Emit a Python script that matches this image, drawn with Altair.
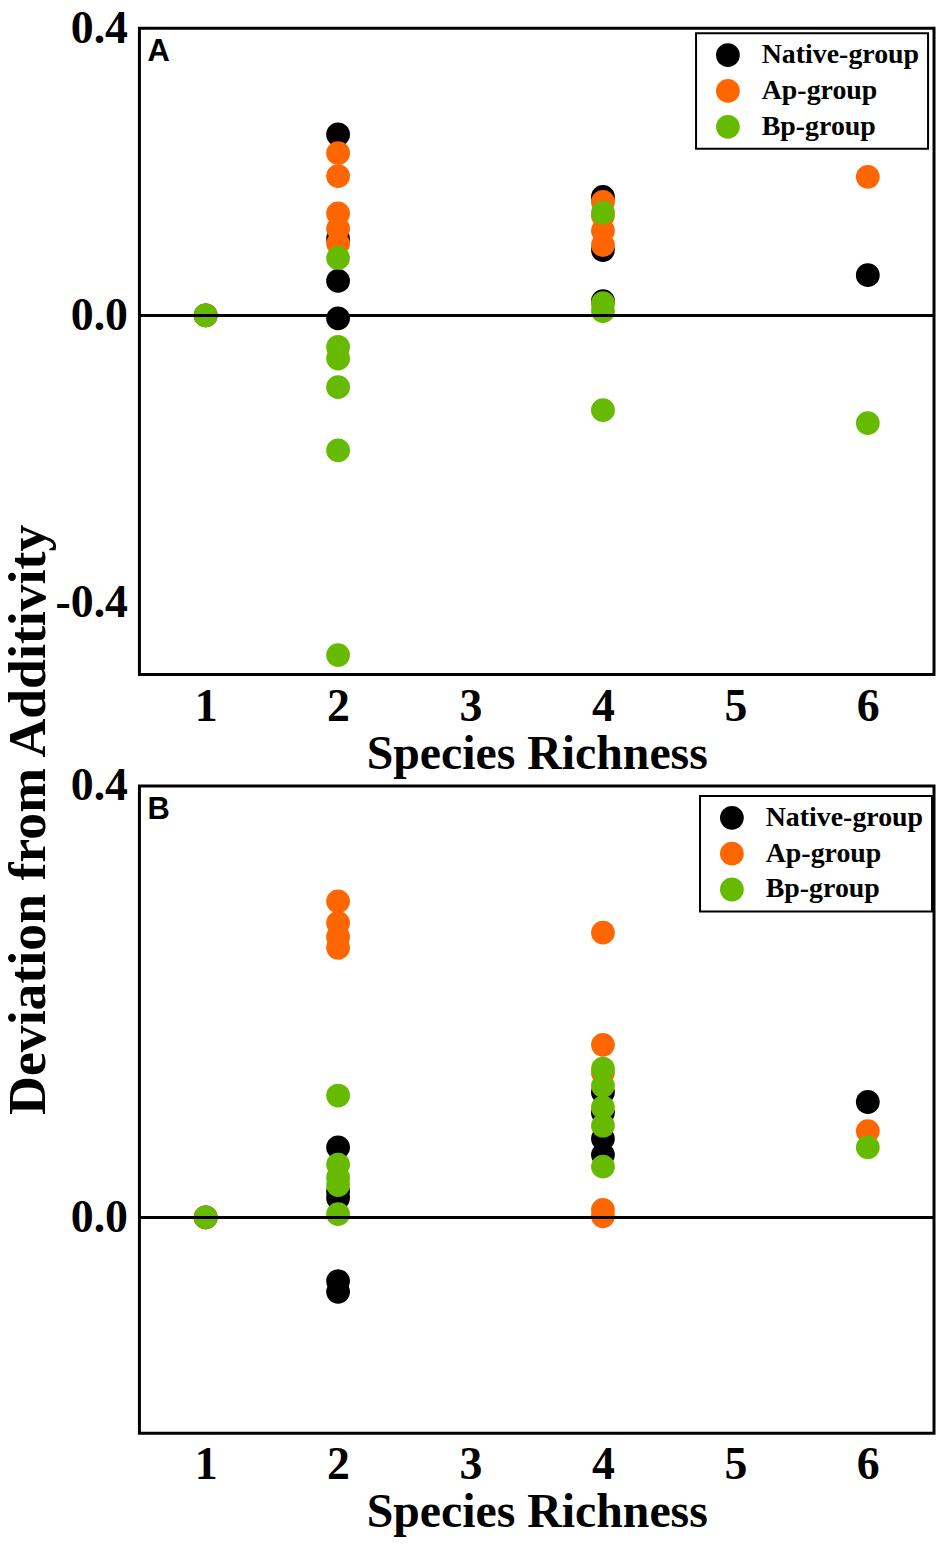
import pandas as pd
import altair as alt

# groups and their colours (drawing order: native, Ap, Bp)
groups = ["Native-group", "Ap-group", "Bp-group"]
group_colors = ["#000000", "#ff6600", "#66bb00"]

richness_ticks = [1, 2, 3, 4, 5, 6]

# Panel A
a_native_x = [1, 2, 2, 2, 2, 4, 4, 4, 6]
a_native_y = [0.0, 0.252, 0.107, 0.048, -0.004, 0.165, 0.091, 0.020, 0.056]
a_ap_x = [1, 2, 2, 2, 2, 2, 4, 4, 4, 4, 6]
a_ap_y = [0.0, 0.226, 0.194, 0.142, 0.121, 0.100, 0.158, 0.139, 0.118, 0.098, 0.193]
a_bp_x = [1, 2, 2, 2, 2, 2, 2, 4, 4, 4, 4, 6]
a_bp_y = [0.0, 0.080, -0.044, -0.060, -0.100, -0.188, -0.473, 0.143, 0.017, 0.006, -0.132, -0.150]

# Panel B
b_native_x = [1, 2, 2, 2, 2, 2, 4, 4, 4, 4, 6]
b_native_y = [0.0, 0.065, 0.024, 0.018, -0.059, -0.069, 0.116, 0.097, 0.073, 0.058, 0.107]
b_ap_x = [1, 2, 2, 2, 2, 4, 4, 4, 4, 4, 6]
b_ap_y = [0.0, 0.293, 0.273, 0.260, 0.250, 0.264, 0.160, 0.134, 0.007, 0.001, 0.080]
b_bp_x = [1, 2, 2, 2, 2, 2, 4, 4, 4, 4, 4, 6]
b_bp_y = [0.0, 0.113, 0.049, 0.037, 0.030, 0.003, 0.138, 0.122, 0.102, 0.085, 0.047, 0.065]

y_title = "Deviation from Additivity"
x_title = "Species Richness"

SERIF = "Liberation Serif"


def build_df(native, ap, bp):
    frames = []
    for name, (xs, ys) in zip(groups, [native, ap, bp]):
        frames.append(pd.DataFrame({"richness": xs, "deviation": ys, "group": name}))
    return pd.concat(frames, ignore_index=True)


def panel(df, ymin, letter, legend_x, legend_y, height):
    y_ticks = [v for v in [-0.4, 0.0, 0.4] if v >= ymin]
    points = alt.Chart(df).mark_circle(size=570, opacity=1).encode(
        x=alt.X("richness:Q",
                scale=alt.Scale(domain=[0.5, 6.5], nice=False, zero=False),
                axis=alt.Axis(values=richness_ticks, title=x_title, grid=False,
                              ticks=False, domain=False, labelFont=SERIF,
                              labelFontSize=46, labelFontWeight="bold",
                              labelColor="black", labelPadding=10,
                              titleFont=SERIF, titleFontSize=48,
                              titleFontWeight="bold", titleColor="black",
                              titlePadding=1)),
        y=alt.Y("deviation:Q",
                scale=alt.Scale(domain=[ymin, 0.4], nice=False, zero=False),
                axis=alt.Axis(values=y_ticks, title=None, grid=False, ticks=False,
                              domain=False, labelFont=SERIF, labelFontSize=46,
                              labelFontWeight="bold", labelColor="black",
                              labelPadding=12,
                              labelExpr="datum.value < 0 ? '-' + format(-datum.value, '.1f') : format(datum.value, '.1f')")),
        color=alt.Color("group:N",
                        scale=alt.Scale(domain=groups, range=group_colors),
                        legend=alt.Legend(title=None, orient="none",
                                          legendX=legend_x, legendY=legend_y,
                                          symbolType="circle", symbolSize=570,
                                          symbolStrokeWidth=0, symbolOpacity=1,
                                          labelFont=SERIF, labelFontSize=28,
                                          labelFontWeight="bold", labelColor="black",
                                          labelOffset=20, rowPadding=8,
                                          padding=8, symbolOffset=10,
                                          strokeColor="black")),
    )
    zero_line = alt.Chart(pd.DataFrame({"deviation": [0.0]})).mark_rule(
        color="black", strokeWidth=3
    ).encode(y="deviation:Q")
    tag = alt.Chart(pd.DataFrame({"t": [letter]})).mark_text(
        font="Liberation Sans", fontSize=31, fontWeight="bold", color="black",
        align="left", baseline="top"
    ).encode(text="t:N", x=alt.value(8), y=alt.value(9))
    return (points + zero_line + tag).properties(width=798, height=height)


df_a = build_df((a_native_x, a_native_y), (a_ap_x, a_ap_y), (a_bp_x, a_bp_y))
df_b = build_df((b_native_x, b_native_y), (b_ap_x, b_ap_y), (b_bp_x, b_bp_y))

chart_a = panel(df_a, -0.5, "A", 559, 5, 649)
chart_b = panel(df_b, -0.2, "B", 563, 10, 650)

panels = alt.vconcat(chart_a, chart_b, spacing=112, bounds="flush").resolve_legend(
    color="independent"
)

title_col = alt.Chart(pd.DataFrame({"t": [y_title]})).mark_text(
    angle=270, font=SERIF, fontSize=54, fontWeight="bold", color="black"
).encode(text="t:N", x=alt.value(27), y=alt.value(795)).properties(
    width=60, height=1411, view=alt.ViewBackground(stroke="transparent")
)

chart = alt.hconcat(title_col, panels, spacing=78, bounds="flush").properties(
    padding={"left": -8, "top": -8, "right": 0, "bottom": -5}
).configure_view(stroke="black", strokeWidth=3).configure_legend(strokeWidth=2)

chart.save("out.html", embed_options={"renderer": "svg", "actions": False})
